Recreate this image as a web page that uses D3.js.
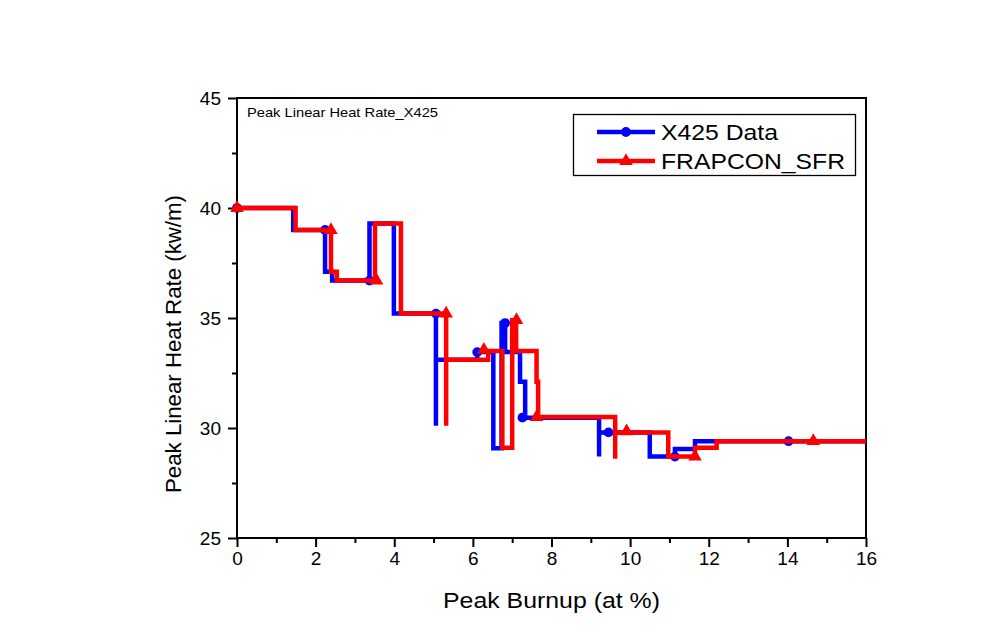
<!DOCTYPE html>
<html><head><meta charset="utf-8">
<script src="https://cdn.jsdelivr.net/npm/d3@7"></script>
<style>body{margin:0;background:#fff;} text{font-family:"Liberation Sans",Arial,sans-serif;fill:#000;}</style>
</head><body>
<svg id="c" width="1004" height="643"></svg>
<script>
// Step-after vertices of each series (x = peak burnup at %, y = kW/m)
const blueX = [0, 1.43, 2.24, 2.42, 3.37, 3.99, 5.06, 5.06, 6.11, 6.52, 6.73, 6.82, 7.2, 7.33, 9.21, 9.21, 10.5, 11.14, 11.65, 16];
const blueY = [40, 39.0, 37.1, 36.7, 39.3, 35.2, 30.1, 33.1, 33.45, 29.08, 34.77, 33.45, 32.1, 30.47, 28.7, 29.8, 28.7, 29.05, 29.4, 29.4];
const redX  = [0, 1.49, 2.39, 2.54, 3.51, 4.17, 5.32, 5.32, 6.39, 6.75, 7.0, 7.1, 7.62, 7.66, 9.62, 9.62, 10.97, 11.65, 12.2, 16];
const redY  = [40, 39.0, 37.1, 36.7, 39.3, 35.2, 30.1, 33.1, 33.5, 29.1, 34.9, 33.5, 32.1, 30.5, 28.6, 29.8, 28.7, 29.1, 29.4, 29.4];
// Marker (symbol) points
const blueMX = [0, 2.24, 3.37, 5.06, 6.11, 6.82, 7.26, 9.45, 11.14, 14.03];
const blueMY = [40, 39.0, 36.7, 35.2, 33.45, 34.77, 30.47, 29.8, 28.7, 29.4];
const redMX  = [0, 2.39, 3.55, 5.32, 6.28, 7.11, 7.62, 9.91, 11.65, 14.66];
const redMY  = [40, 39.0, 36.7, 35.2, 33.55, 34.9, 30.5, 29.85, 28.7, 29.4];
// Axis ticks
const xMajor = [0, 2, 4, 6, 8, 10, 12, 14, 16];
const xMinor = [1, 3, 5, 7, 9, 11, 13, 15];
const yMajor = [25, 30, 35, 40, 45];
const yMinor = [27.5, 32.5, 37.5, 42.5];
const seriesNames = ["X425 Data", "FRAPCON_SFR"];
const seriesColors = ["#0000ff", "#ff0000"];

const svg = d3.select("#c");
const L = 237, R = 866, T = 98, B = 538;
const x = d3.scaleLinear().domain([0, 16]).range([L, R]);
const y = d3.scaleLinear().domain([25, 45]).range([B, T]);

// axes
const gx = svg.append("g").attr("transform", `translate(0,${B})`)
  .call(d3.axisBottom(x).tickValues(xMajor).tickSize(9).tickPadding(5).tickFormat(d3.format("d")));
const gxm = svg.append("g").attr("transform", `translate(0,${B})`)
  .call(d3.axisBottom(x).tickValues(xMinor).tickSize(5).tickFormat(""));
const gy = svg.append("g").attr("transform", `translate(${L},0)`)
  .call(d3.axisLeft(y).tickValues(yMajor).tickSize(9).tickPadding(7).tickFormat(d3.format("d")));
const gym = svg.append("g").attr("transform", `translate(${L},0)`)
  .call(d3.axisLeft(y).tickValues(yMinor).tickSize(5).tickFormat(""));
[gx, gxm, gy, gym].forEach(g => {
  g.select(".domain").remove();
  g.selectAll(".tick line").attr("stroke", "#000").attr("stroke-width", 2);
  g.selectAll("text").attr("font-size", 19).attr("fill", "#000")
    .style("font-family", '"Liberation Sans",Arial,sans-serif');
});
gy.selectAll("text").attr("dy", "0.36em");

// frame
svg.append("rect").attr("x", L).attr("y", T).attr("width", R - L).attr("height", B - T)
  .attr("fill", "none").attr("stroke", "#000").attr("stroke-width", 2);

// series
const line = d3.line().x(d => x(d[0])).y(d => y(d[1])).curve(d3.curveStepAfter);
const series = [
  {lx: blueX, ly: blueY, mx: blueMX, my: blueMY, color: seriesColors[0], sym: d3.symbolCircle, size: 75},
  {lx: redX, ly: redY, mx: redMX, my: redMY, color: seriesColors[1], sym: d3.symbolTriangle, size: 80}
];
series.forEach(s => {
  const pts = s.lx.map((v, i) => [v, s.ly[i]]);
  svg.append("path").attr("d", line(pts)).attr("fill", "none")
    .attr("stroke", s.color).attr("stroke-width", 4.5).attr("stroke-linejoin", "miter");
  const mp = s.mx.map((v, i) => [v, s.my[i]]);
  svg.append("g").selectAll("path").data(mp).join("path")
    .attr("d", d3.symbol().type(s.sym).size(s.size))
    .attr("transform", d => `translate(${x(d[0])},${y(d[1])})`)
    .attr("fill", s.color);
});

// inner title
svg.append("text").attr("x", 247).attr("y", 117).attr("font-size", 13)
  .attr("textLength", 191).attr("lengthAdjust", "spacingAndGlyphs")
  .text("Peak Linear Heat Rate_X425");

// legend
svg.append("rect").attr("x", 573.5).attr("y", 114.5).attr("width", 282).attr("height", 61)
  .attr("fill", "#fff").attr("stroke", "#000").attr("stroke-width", 1.3);
const legY = [132, 161];
const legW = [117, 184];
series.forEach((s, i) => {
  svg.append("line").attr("x1", 597).attr("x2", 655).attr("y1", legY[i]).attr("y2", legY[i])
    .attr("stroke", s.color).attr("stroke-width", 4.5);
  svg.append("path").attr("d", d3.symbol().type(s.sym).size(s.size)())
    .attr("transform", `translate(626,${legY[i]})`).attr("fill", s.color);
  svg.append("text").attr("x", 661).attr("y", legY[i] + 8).attr("font-size", 22)
    .attr("textLength", legW[i]).attr("lengthAdjust", "spacingAndGlyphs")
    .text(seriesNames[i]);
});

// axis titles
svg.append("text").attr("x", 551.5).attr("y", 608).attr("text-anchor", "middle")
  .attr("font-size", 22).attr("textLength", 217).attr("lengthAdjust", "spacingAndGlyphs")
  .text("Peak Burnup (at %)");
svg.append("text").attr("transform", "translate(181,344) rotate(-90)").attr("text-anchor", "middle")
  .attr("font-size", 22).attr("textLength", 298).attr("lengthAdjust", "spacingAndGlyphs")
  .text("Peak Linear Heat Rate (kw/m)");
</script>
</body></html>
